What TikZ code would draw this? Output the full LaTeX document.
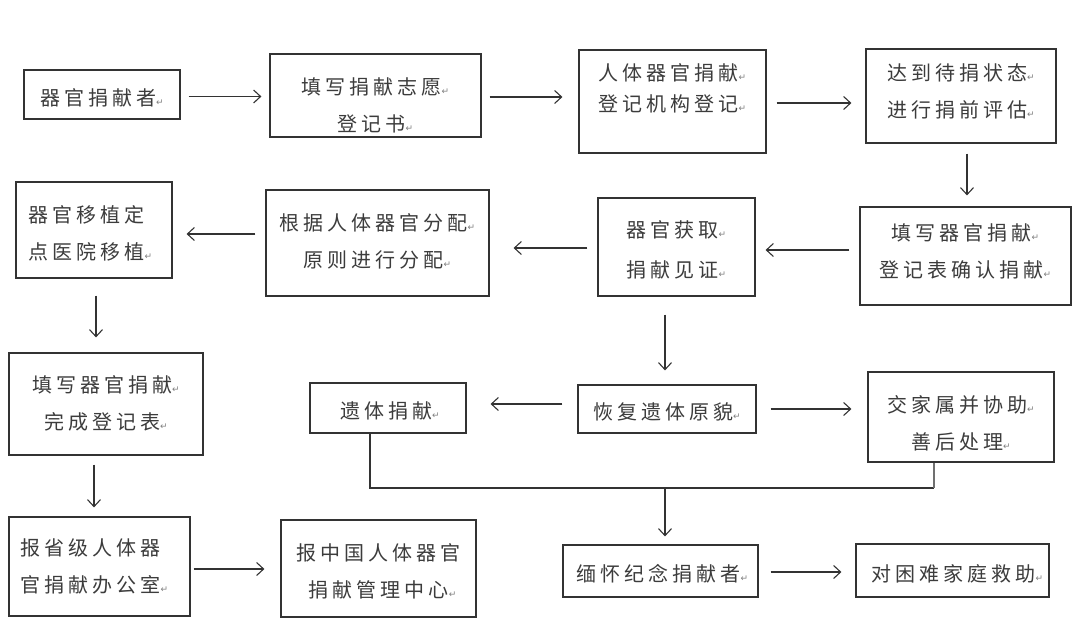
\documentclass[tikz,border=0pt]{standalone}
\usepackage{fontspec}
\usetikzlibrary{arrows.meta,calc}
\newfontfamily\cjk[LetterSpace=20]{Noto Sans CJK SC}
\newfontfamily\retfont{DejaVu Sans}
\definecolor{ink}{HTML}{333333}
\definecolor{txtc}{HTML}{3C3C3C}
\newcommand\enterm{{\retfont\fontsize{9}{9}\selectfont\textcolor{gray}{↵}}}
\begin{document}
\begin{tikzpicture}[x=1pt,y=-1pt,
  box/.style={draw=ink, line width=1.2pt, inner sep=0pt},
  txt/.style={font=\cjk\fontsize{20}{37}\selectfont, text=txtc, align=center, inner sep=0pt},
  txtl/.style={txt, align=left, anchor=west},
  arr/.style={draw=ink, line width=1.1pt, -{Straight Barb[length=7pt,width=13pt]}},
  ln/.style={draw=ink, line width=1.1pt}]
\useasboundingbox[fill=white] (0,0) rectangle (1080,623);

% boxes
\node[box, minimum width=156pt, minimum height=49pt]  (b1)  at (102,94.5) {};
\node[box, minimum width=211pt, minimum height=83pt]  (b2)  at (375.5,95.5) {};
\node[box, minimum width=187pt, minimum height=103pt] (b3)  at (672.5,101.5) {};
\node[box, minimum width=190pt, minimum height=94pt]  (b4)  at (961,96) {};
\node[box, minimum width=211pt, minimum height=98pt]  (b5)  at (965.5,256) {};
\node[box, minimum width=157pt, minimum height=98pt]  (b6)  at (676.5,247) {};
\node[box, minimum width=223pt, minimum height=106pt] (b7)  at (377.5,243) {};
\node[box, minimum width=156pt, minimum height=96pt]  (b8)  at (94,230) {};
\node[box, minimum width=194pt, minimum height=102pt] (b9)  at (106,404) {};
\node[box, minimum width=181pt, minimum height=99pt]  (b10) at (99.5,566.5) {};
\node[box, minimum width=195pt, minimum height=97pt]  (b11) at (378.5,568.5) {};
\node[box, minimum width=178pt, minimum height=48pt]  (b12) at (667,409) {};
\node[box, minimum width=156pt, minimum height=50pt]  (b13) at (388,408) {};
\node[box, minimum width=186pt, minimum height=90pt]  (b14) at (961,417) {};
\node[box, minimum width=195pt, minimum height=52pt]  (b15) at (660.5,571) {};
\node[box, minimum width=193pt, minimum height=53pt]  (b16) at (952.5,570.5) {};

% texts
\node[txt] (t1) at ($(b1)+(0,3)$) {器官捐献者\enterm};
\node[txt] (t2) at ($(b2)+(0,9.5)$) {填写捐献志愿\enterm\\登记书\enterm};
\node[txt, font=\cjk\fontsize{20}{31}\selectfont] (t3) at ($(b3)+(0,-13)$) {人体器官捐献\enterm\\登记机构登记\enterm};
\node[txt] (t4) at ($(b4)+(0,-5)$) {达到待捐状态\enterm\\进行捐前评估\enterm};
\node[txt] (t5) at ($(b5)+(0,-5)$) {填写器官捐献\enterm\\登记表确认捐献\enterm};
\node[txt, font=\cjk\fontsize{20}{40}\selectfont] (t6) at ($(b6)+(0,2.5)$) {器官获取\enterm\\捐献见证\enterm};
\node[txt] (t7) at ($(b7)+(0,-1.5)$) {根据人体器官分配\enterm\\原则进行分配\enterm};
\node[txtl] (t8) at ($(b8.west)+(13,3)$) {器官移植定\\点医院移植\enterm};
\node[txt] (t9) at ($(b9)+(0,-1)$) {填写器官捐献\enterm\\完成登记表\enterm};
\node[txtl] (t10) at ($(b10.west)+(12,0)$) {报省级人体器\\官捐献办公室\enterm};
\node[txt] (t11) at ($(b11)+(0,2.5)$) {报中国人体器官\\\ 捐献管理中心\enterm};
\node[txt] (t12) at ($(b12)+(0,3)$) {恢复遗体原貌\enterm};
\node[txt] (t13) at ($(b13)+(2,3)$) {遗体捐献\enterm};
\node[txt] (t14) at ($(b14)+(0,6.5)$) {交家属并协助\enterm\\善后处理\enterm};
\node[txt] (t15) at ($(b15)+(2,3)$) {缅怀纪念捐献者\enterm};
\node[txt] (t16) at ($(b16)+(5,3.5)$) {对困难家庭救助\enterm};

% connectors
\draw[arr, shorten <=8pt, shorten >=8pt] ([yshift=-2pt]b1.east) -- ([yshift=-2pt]b1.east -| b2.west);
\draw[arr, shorten <=8pt, shorten >=16pt] ([yshift=-1.5pt]b2.east) -- ([yshift=-1.5pt]b2.east -| b3.west);
\draw[arr, shorten <=10pt, shorten >=14pt] ([yshift=-1.5pt]b3.east) -- ([yshift=-1.5pt]b3.east -| b4.west);
\draw[arr, shorten <=10pt, shorten >=11pt] ([xshift=6pt]b4.south) -- ([xshift=6pt]b4.south |- b5.north);
\draw[arr, shorten <=10pt, shorten >=10pt] ([yshift=6pt]b5.west) -- ([yshift=6pt]b5.west -| b6.east);
\draw[arr, shorten <=10pt, shorten >=24pt] ([yshift=-1pt]b6.west) -- ([yshift=-1pt]b6.west -| b7.east);
\draw[arr, shorten <=10pt, shorten >=14pt] ([yshift=9pt]b7.west) -- ([yshift=9pt]b7.west -| b8.east);
\draw[arr, shorten <=17pt, shorten >=15pt] ([xshift=2pt]b8.south) -- ([xshift=2pt]b8.south |- b9.north);
\draw[arr, shorten <=9pt, shorten >=9pt] ([xshift=-12pt]b9.south) -- ([xshift=-12pt]b9.south |- b10.north);
\draw[arr, shorten <=3pt, shorten >=16pt] ([yshift=-2.5pt]b10.east) -- ([yshift=-2.5pt]b10.east -| b11.west);
\draw[arr, shorten <=18pt, shorten >=14pt] ([xshift=-2pt]b12.north |- b6.south) -- ([xshift=-2pt]b12.north);
\draw[arr, shorten <=15pt, shorten >=24pt] ([yshift=5pt]b12.west) -- ([yshift=5pt]b12.west -| b13.east);
\draw[arr, shorten <=14pt, shorten >=16pt] (b12.east) -- (b12.east -| b14.west);
\coordinate (bl) at (370,488);
\coordinate (br) at (934,488);
\coordinate (jn) at (665,488);
\draw[ln] (bl |- b13.south) -- (bl) -- (br);
\draw[ln, draw=ink!70] (br) -- (br |- b14.south);
\draw[arr, shorten >=8pt] (jn) -- (jn |- b15.north);
\draw[arr, shorten <=12pt, shorten >=14pt] ([yshift=-1pt]b15.east) -- ([yshift=-1pt]b15.east -| b16.west);
\end{tikzpicture}
\end{document}
